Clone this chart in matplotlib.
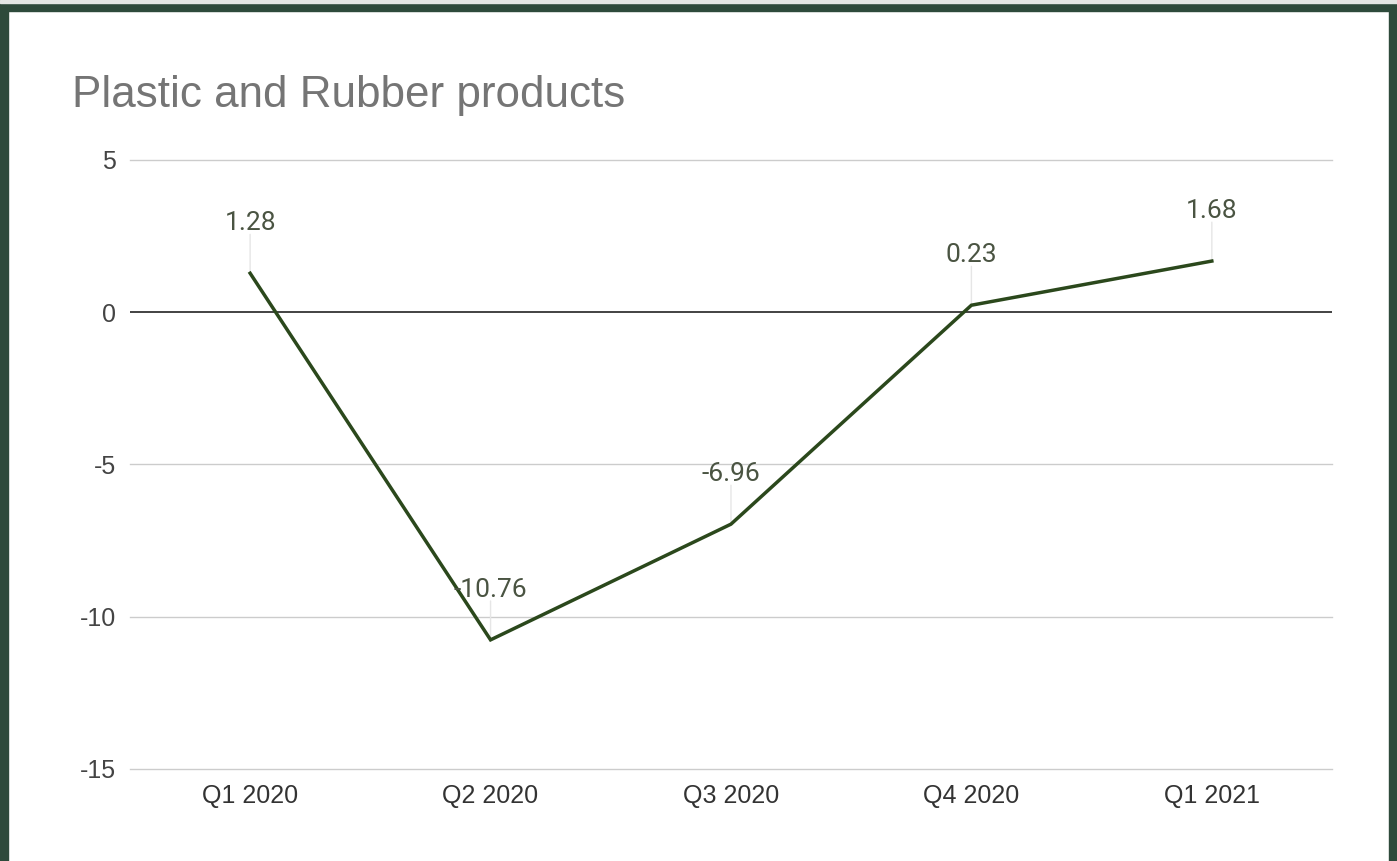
import matplotlib
matplotlib.use("Agg")
import matplotlib.pyplot as plt
from matplotlib.patches import Rectangle

quarters = ["Q1 2020", "Q2 2020", "Q3 2020", "Q4 2020", "Q1 2021"]
values = [1.28, -10.76, -6.96, 0.23, 1.68]
y_ticks = [-15, -10, -5, 0, 5]

LINE = "#2b481c"
BORDER = "#2e4a3b"

plt.rcParams["font.family"] = ["Liberation Sans", "DejaVu Sans"]

fig = plt.figure(figsize=(13.97, 8.61), dpi=100)
fig.patch.set_facecolor("white")
ax = fig.add_axes([0.093, 0.1069, 0.8605, 0.7073])

x = list(range(len(quarters)))
ax.plot(x, values, color=LINE, lw=2.5, solid_joinstyle="miter", zorder=4)

# gridlines + zero line
for t in y_ticks:
    if t == 0:
        ax.axhline(0, color="#222222", lw=1.2, zorder=3)
    else:
        ax.axhline(t, color="#cccccc", lw=1.0, zorder=1, clip_on=False)

# data labels with faint leader lines
for xi, v in zip(x, values):
    ax.annotate("", xy=(xi, v), xytext=(0, 28), textcoords="offset points",
                arrowprops=dict(arrowstyle="-", color="#e6e6e6", lw=1.0,
                                shrinkA=0, shrinkB=0), zorder=2)
    ax.annotate(f"{v:.2f}", xy=(xi, v), xytext=(0, 36), textcoords="offset points",
                ha="center", va="center", fontsize=19, color="#4a5442",
                family=["Roboto", "DejaVu Sans"], zorder=5)

ax.set_xlim(-0.5, len(quarters) - 0.5)
ax.set_ylim(-15, 5)
ax.set_xticks(x)
ax.set_xticklabels(quarters, fontsize=18, color="#333333")
ax.set_yticks(y_ticks)
ax.set_yticklabels([str(t) for t in y_ticks], fontsize=18, color="#444444")
ax.tick_params(length=0, pad=10)
ax.tick_params(axis="x", pad=11)
for s in ax.spines.values():
    s.set_visible(False)

fig.text(72 / 1397, 1 - 95 / 861, "Plastic and Rubber products", fontsize=31.7,
         color="#757575", va="center", ha="left")

# dark green frame round the picture
W, H = 1397, 861
fig.add_artist(Rectangle((0, 0), 8 / W, 1, transform=fig.transFigure,
                         color=BORDER, zorder=10))
fig.add_artist(Rectangle((1 - 8 / W, 0), 8 / W, 1, transform=fig.transFigure,
                         color=BORDER, zorder=10))
fig.add_artist(Rectangle((0, 1 - 11 / H), 1, 8 / H, transform=fig.transFigure,
                         color=BORDER, zorder=10))
fig.add_artist(Rectangle((0, 1 - 3 / H), 1, 3 / H, transform=fig.transFigure,
                         color="#e4e6e4", zorder=10))

fig.savefig("out.png", dpi=100)
